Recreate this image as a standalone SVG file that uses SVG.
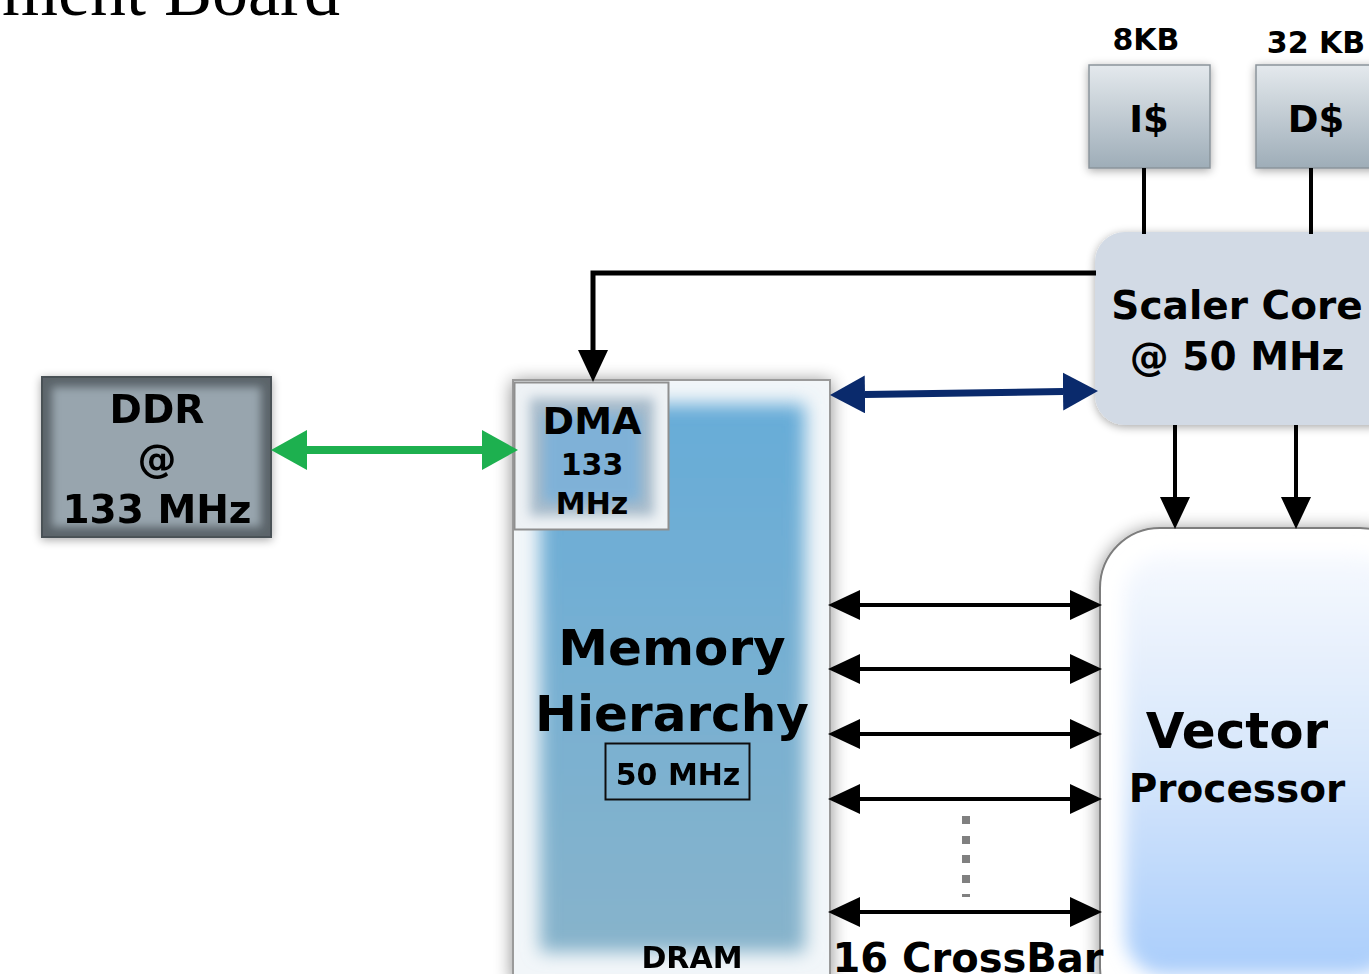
<svg xmlns="http://www.w3.org/2000/svg" width="1369" height="974" viewBox="0 0 1369 974">
  <style>
    .lbl { font-family: "DejaVu Sans", Verdana, sans-serif; font-weight: bold; fill: #000; text-anchor: middle; }
    .title { font-family: "Liberation Serif", "Times New Roman", serif; fill: #000; }
    .wire { fill: none; stroke: #000; }
  </style>
  <defs>
    <filter id="shadow" x="-20%" y="-20%" width="140%" height="140%">
      <feGaussianBlur in="SourceAlpha" stdDeviation="9"/>
      <feOffset dx="0" dy="2"/>
      <feComponentTransfer><feFuncA type="linear" slope="0.45"/></feComponentTransfer>
      <feMerge><feMergeNode/><feMergeNode in="SourceGraphic"/></feMerge>
    </filter>
    <filter id="shadowS" x="-20%" y="-20%" width="140%" height="140%">
      <feGaussianBlur in="SourceAlpha" stdDeviation="5"/>
      <feOffset dx="0" dy="2"/>
      <feComponentTransfer><feFuncA type="linear" slope="0.35"/></feComponentTransfer>
      <feMerge><feMergeNode/><feMergeNode in="SourceGraphic"/></feMerge>
    </filter>
    <filter id="soft" x="-20%" y="-20%" width="140%" height="140%">
      <feGaussianBlur stdDeviation="9"/>
    </filter>
    <filter id="soft4" x="-20%" y="-20%" width="140%" height="140%">
      <feGaussianBlur stdDeviation="4"/>
    </filter>
    <filter id="soft6" x="-20%" y="-20%" width="140%" height="140%">
      <feGaussianBlur stdDeviation="6"/>
    </filter>
    <linearGradient id="memFill" x1="0" y1="0" x2="0" y2="1">
      <stop offset="0" stop-color="#67acd8"/>
      <stop offset="1" stop-color="#87b3cb"/>
    </linearGradient>
    <linearGradient id="cacheFill" x1="0" y1="0" x2="0" y2="1">
      <stop offset="0" stop-color="#e4e9ed"/>
      <stop offset="1" stop-color="#9eadb8"/>
    </linearGradient>
    <linearGradient id="vecFill" x1="0" y1="0" x2="0" y2="1">
      <stop offset="0" stop-color="#f6f9fe"/>
      <stop offset="0.5" stop-color="#d6e6fb"/>
      <stop offset="1" stop-color="#a9cdfb"/>
    </linearGradient>
    <clipPath id="memClip"><rect x="513" y="380" width="317" height="600"/></clipPath>
    <clipPath id="dmaClip"><rect x="514" y="382" width="155" height="148"/></clipPath>
    <clipPath id="ddrClip"><rect x="42" y="377" width="229" height="160"/></clipPath>
    <clipPath id="vecClip"><rect x="1100" y="528" width="320" height="500" rx="60"/></clipPath>
    <marker id="headK" markerUnits="userSpaceOnUse" markerWidth="34" markerHeight="32" refX="0" refY="15" orient="auto-start-reverse">
      <path d="M0,0 L32,15 L0,30 Z" fill="#000"/>
    </marker>
    <marker id="headG" markerUnits="userSpaceOnUse" markerWidth="38" markerHeight="42" refX="0" refY="20" orient="auto-start-reverse">
      <path d="M0,0 L36,20 L0,40 Z" fill="#1db04f"/>
    </marker>
    <marker id="headN" markerUnits="userSpaceOnUse" markerWidth="38" markerHeight="40" refX="0" refY="19" orient="auto-start-reverse">
      <path d="M0,0 L35,19 L0,38 Z" fill="#0a2a6c"/>
    </marker>
  </defs>

  <rect width="1369" height="974" fill="#ffffff"/>

  <!-- slide heading, partly off the top edge -->
  <text class="title" x="340" y="15" font-size="72" text-anchor="end">ment Board</text>

  <!-- external DDR -->
  <g id="ddr" filter="url(#shadowS)">
    <rect x="42" y="377" width="229" height="160" fill="#5b646a" stroke="#4a5156" stroke-width="2"/>
    <g clip-path="url(#ddrClip)">
      <rect x="52" y="387" width="209" height="140" fill="#98a5ae" filter="url(#soft4)"/>
    </g>
    <text class="lbl" x="157" y="423" font-size="39">DDR</text>
    <text class="lbl" x="157" y="472" font-size="39">@</text>
    <text class="lbl" x="157" y="523" font-size="39">133 MHz</text>
  </g>

  <!-- on-chip memory hierarchy -->
  <g id="memory" filter="url(#shadow)">
    <rect x="513" y="380" width="317" height="600" fill="#f2f6f9" stroke="#9a9a9a" stroke-width="2"/>
    <g clip-path="url(#memClip)">
      <rect x="540" y="404" width="265" height="548" fill="url(#memFill)" filter="url(#soft)"/>
    </g>
    <text class="lbl" x="672" y="665" font-size="50">Memory</text>
    <text class="lbl" x="672" y="731" font-size="50">Hierarchy</text>
    <rect x="605.5" y="743.5" width="144" height="56" fill="none" stroke="#111" stroke-width="2"/>
    <text class="lbl" x="678" y="785" font-size="30">50 MHz</text>
    <text class="lbl" x="692" y="968" font-size="30">DRAM</text>
  </g>

  <!-- DMA engine inside the memory block -->
  <g id="dma">
    <rect x="514.5" y="382.5" width="154" height="147" fill="#eef2f5" stroke="#8f8f8f" stroke-width="2"/>
    <g clip-path="url(#dmaClip)">
      <rect x="530" y="398" width="124" height="118" fill="#a9bccb" filter="url(#soft6)"/>
      <rect x="543" y="414" width="98" height="88" fill="#78b0da" filter="url(#soft6)" opacity="0.85"/>
    </g>
    <text class="lbl" x="592" y="434" font-size="38">DMA</text>
    <text class="lbl" x="592" y="475" font-size="30">133</text>
    <text class="lbl" x="592" y="514" font-size="30">MHz</text>
  </g>

  <!-- instruction cache -->
  <g id="icache">
    <text class="lbl" x="1146" y="50" font-size="30">8KB</text>
    <rect x="1089" y="65" width="121" height="103" fill="url(#cacheFill)" stroke="#8a949b" stroke-width="1.5" filter="url(#shadowS)"/>
    <text class="lbl" x="1149" y="132" font-size="37">I$</text>
  </g>

  <!-- data cache -->
  <g id="dcache">
    <text class="lbl" x="1316" y="53" font-size="30">32 KB</text>
    <rect x="1256" y="65" width="130" height="103" fill="url(#cacheFill)" stroke="#8a949b" stroke-width="1.5" filter="url(#shadowS)"/>
    <text class="lbl" x="1316" y="132" font-size="37">D$</text>
  </g>

  <!-- scalar control core -->
  <g id="scaler">
    <rect x="1095" y="232" width="310" height="193" rx="30" fill="#d2dae5" filter="url(#shadowS)"/>
    <text class="lbl" x="1237" y="319" font-size="39">Scaler Core</text>
    <text class="lbl" x="1237" y="370" font-size="39">@ 50 MHz</text>
  </g>

  <!-- vector unit -->
  <g id="vector">
    <rect x="1100" y="528" width="320" height="500" rx="60" fill="#ffffff" stroke="#7d7d7d" stroke-width="2" filter="url(#shadow)"/>
    <g clip-path="url(#vecClip)">
      <rect x="1125" y="555" width="270" height="420" rx="40" fill="url(#vecFill)" filter="url(#soft)"/>
    </g>
    <text class="lbl" x="1237" y="748" font-size="50">Vector</text>
    <text class="lbl" x="1237" y="802" font-size="39">Processor</text>
  </g>

  <!-- connectors -->
  <g id="connectors">
    <line x1="1144" y1="168" x2="1144" y2="234" class="wire" stroke-width="4"/>
    <line x1="1311" y1="168" x2="1311" y2="234" class="wire" stroke-width="4"/>
    <path d="M1096,273 H593 V350" class="wire" stroke-width="5" marker-end="url(#headK)"/>
    <line x1="307" y1="450" x2="482" y2="450" stroke="#1db04f" stroke-width="8" marker-start="url(#headG)" marker-end="url(#headG)"/>
    <line x1="865" y1="394.5" x2="1063" y2="391.5" stroke="#0a2a6c" stroke-width="7" marker-start="url(#headN)" marker-end="url(#headN)"/>
    <line x1="1175" y1="425" x2="1175" y2="497" class="wire" stroke-width="4" marker-end="url(#headK)"/>
    <line x1="1296" y1="425" x2="1296" y2="497" class="wire" stroke-width="4" marker-end="url(#headK)"/>
    <line x1="860" y1="605" x2="1070" y2="605" class="wire" stroke-width="4" marker-start="url(#headK)" marker-end="url(#headK)"/>
    <line x1="860" y1="669" x2="1070" y2="669" class="wire" stroke-width="4" marker-start="url(#headK)" marker-end="url(#headK)"/>
    <line x1="860" y1="734" x2="1070" y2="734" class="wire" stroke-width="4" marker-start="url(#headK)" marker-end="url(#headK)"/>
    <line x1="860" y1="799" x2="1070" y2="799" class="wire" stroke-width="4" marker-start="url(#headK)" marker-end="url(#headK)"/>
    <line x1="860" y1="912" x2="1070" y2="912" class="wire" stroke-width="4" marker-start="url(#headK)" marker-end="url(#headK)"/>
    <!-- ellipsis for the remaining lanes -->
    <g fill="#808080">
      <rect x="962" y="816" width="8" height="8"/>
      <rect x="962" y="836" width="8" height="8"/>
      <rect x="962" y="855" width="8" height="8"/>
      <rect x="962" y="875" width="8" height="8"/>
      <rect x="962" y="894" width="8" height="3"/>
    </g>
  </g>

  <text class="lbl" x="968" y="972" font-size="40">16 CrossBar</text>
</svg>
